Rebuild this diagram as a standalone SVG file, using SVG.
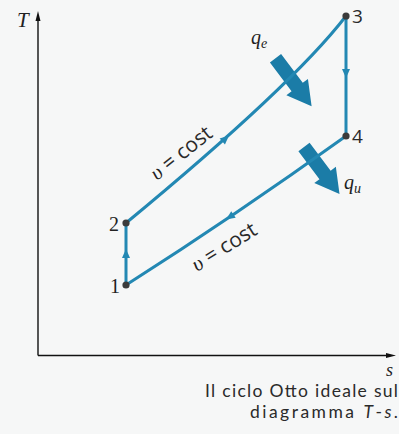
<svg xmlns="http://www.w3.org/2000/svg" width="399" height="434" viewBox="0 0 399 434">
<style>
.axis{stroke:#111;stroke-width:1.4;fill:none}
.cyc{stroke:#2388b3;stroke-width:3;fill:none;stroke-linecap:round}
.ah{fill:#2388b3}
.big{fill:#1b7ca7}
.pt{fill:#3b3b3b}
.ser{font-family:"Liberation Serif","DejaVu Serif",serif;fill:#222}
.it{font-style:italic}
.sans{font-family:"Open Sans","Liberation Sans",sans-serif;fill:#2a2a2a}
.cap{font-family:Lato,"Open Sans",sans-serif;fill:#2a2a2a;font-size:17.5px}
</style>
<rect width="399" height="434" fill="#f6f7f7"/>
<g id="axes">
<line class="axis" x1="38" y1="355.5" x2="38" y2="18"/>
<polygon points="38,11 35.5,21 40.5,21" fill="#111"/>
<line class="axis" x1="38" y1="355.5" x2="389" y2="355.5"/>
<polygon points="396,355.5 386,353 386,358" fill="#111"/>
<text class="ser it" x="17" y="27" font-size="21">T</text>
<text class="ser it" x="386" y="376" font-size="18">s</text>
</g>
<g id="heat-arrows">
<polygon class="big" transform="translate(275.5,58.3) rotate(53)" points="0,-7 36,-7 36,-13.5 60,0 36,13.5 36,7 0,7"/>
<polygon class="big" transform="translate(304,147) rotate(53)" points="0,-7 35,-7 35,-13.5 59,0 35,13.5 35,7 0,7"/>
</g>
<g id="connectors">
<path class="cyc" d="M126,285 L126,223"/>
<path class="cyc" d="M126,223 Q292,86 346,16"/>
<path class="cyc" d="M346,16 L346,136"/>
<path class="cyc" d="M346,136 Q236,215 126,285"/>
<polygon class="ah" transform="translate(126,249) rotate(-90)" points="0,0 -9,-4 -9,4"/>
<polygon class="ah" transform="translate(229,135.5) rotate(-41.8)" points="0,0 -9,-4 -9,4"/>
<polygon class="ah" transform="translate(346,78) rotate(90)" points="0,0 -9,-4 -9,4"/>
<polygon class="ah" transform="translate(226,219.5) rotate(146)" points="0,0 -9,-4 -9,4"/>
</g>
<g id="node-1"><circle class="pt" cx="126" cy="285" r="3.6"/><text class="ser" x="110" y="293" font-size="20">1</text></g>
<g id="node-2"><circle class="pt" cx="126" cy="223" r="3.6"/><text class="ser" x="109" y="231" font-size="20">2</text></g>
<g id="node-3"><circle class="pt" cx="346" cy="16" r="3.6"/><text class="sans" x="352" y="23" font-size="19">3</text></g>
<g id="node-4"><circle class="pt" cx="346" cy="136" r="3.6"/><text class="sans" x="352" y="143" font-size="19">4</text></g>
<g id="labels">
<text class="ser it" x="251" y="44" font-size="20">q<tspan font-size="14" dy="4">e</tspan></text>
<text class="ser it" x="344" y="189" font-size="20">q<tspan font-size="14" dy="4">u</tspan></text>
<text transform="translate(157,181) rotate(-38.5)" font-size="21"><tspan class="ser it">υ</tspan><tspan class="sans"> = cost</tspan></text>
<text transform="translate(197,272) rotate(-32)" font-size="21"><tspan class="ser it">υ</tspan><tspan class="sans"> = cost</tspan></text>
<text class="cap" x="205" y="397" textLength="193" lengthAdjust="spacing">Il ciclo Otto ideale sul</text>
<text class="cap" x="250" y="418" textLength="148" lengthAdjust="spacing">diagramma <tspan class="it">T</tspan>-<tspan class="it">s</tspan>.</text>
</g>
</svg>
